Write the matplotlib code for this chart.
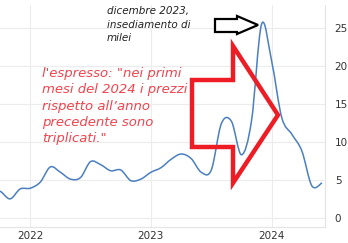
import matplotlib
matplotlib.use("Agg")
import matplotlib.pyplot as plt
from matplotlib.path import Path
from matplotlib.patches import PathPatch, Polygon
import numpy as np

# monthly inflation (%), Sep 2021 .. Jun 2024
months = list(range(-4, 30))  # 0 = Jan 2022
values = [3.5, 3.5, 2.5, 3.8,
          3.9, 4.7, 6.7, 6.0, 5.1, 5.3, 7.4, 7.0, 6.2, 6.3, 4.9, 5.1,
          6.0, 6.6, 7.7, 8.4, 7.8, 6.0, 6.3, 12.4, 12.7, 8.3, 12.8, 25.5,
          20.6, 13.2, 11.0, 8.8, 4.2, 4.6]
year_ticks = [0, 12, 24]
year_labels = ['2022', '2023', '2024']
y_ticks = [0, 5, 10, 15, 20, 25]

W, H = 348, 243
fig = plt.figure(figsize=(W / 100, H / 100), dpi=100)
ax = fig.add_axes([0, 1 - 227 / H, 325 / W, 222 / H])


def smooth_path(xs, ys):
    # catmull-rom -> cubic bezier through the monthly points
    xs = np.asarray(xs, float)
    ys = np.asarray(ys, float)
    verts = [(xs[0], ys[0])]
    codes = [Path.MOVETO]
    n = len(xs)
    for i in range(n - 1):
        x0, y0 = (xs[i - 1], ys[i - 1]) if i > 0 else (xs[i], ys[i])
        x3, y3 = (xs[i + 2], ys[i + 2]) if i + 2 < n else (xs[i + 1], ys[i + 1])
        x1, y1 = xs[i], ys[i]
        x2, y2 = xs[i + 1], ys[i + 1]
        c1 = (x1 + (x2 - x0) / 6, y1 + (y2 - y0) / 6)
        c2 = (x2 - (x3 - x1) / 6, y2 - (y3 - y1) / 6)
        verts += [c1, c2, (x2, y2)]
        codes += [Path.CURVE4] * 3
    return Path(verts, codes)


ax.add_patch(PathPatch(smooth_path(months, values), fc='none',
                       ec='#4a7fc1', lw=1.1, zorder=3))

ax.set_xlim(-3.0, 29.3)
ax.set_ylim(-1.2, 28)
ax.set_xticks(year_ticks)
ax.set_xticklabels(year_labels)
ax.set_yticks(y_ticks)
ax.yaxis.tick_right()
ax.tick_params(axis='both', length=0, labelsize=7.5, colors='#333333')
ax.tick_params(axis='y', pad=7)
ax.tick_params(axis='x', pad=3)
ax.grid(color='#ececec', lw=0.8)
for s in ['top', 'left']:
    ax.spines[s].set_visible(False)
for s in ['right', 'bottom']:
    ax.spines[s].set_color('#e4e4e4')


def px(x, y):
    return (x / W, 1 - y / H)


# black hollow arrow
black_arrow = [(215, 19), (237, 19), (237, 16), (258, 25), (237, 34), (237, 32), (215, 32)]
fig.patches.append(Polygon([px(*p) for p in black_arrow], closed=True, fc='white',
                           ec='black', lw=1.6, transform=fig.transFigure, zorder=5))

# red hollow arrow
red_arrow = [(192, 80), (233, 80), (233, 46), (278, 115), (233, 183), (233, 147), (192, 147)]
fig.patches.append(Polygon([px(*p) for p in red_arrow], closed=True, fc='none',
                           ec='#ee1c25', lw=3.2, joinstyle='miter',
                           transform=fig.transFigure, zorder=5))

fig.text(*px(107, 6), "dicembre 2023,\ninsediamento di\nmilei", fontsize=7.5,
         style='italic', color='#222222', va='top', ha='left', linespacing=1.45)
fig.text(*px(42, 67), "l'espresso: \"nei primi\nmesi del 2024 i prezzi\nrispetto all\u2019anno\n"
         "precedente sono\ntriplicati.\"", fontsize=9.5, style='italic', color='#f2444e',
         va='top', ha='left', linespacing=1.33)

fig.savefig('out.png', dpi=100)
